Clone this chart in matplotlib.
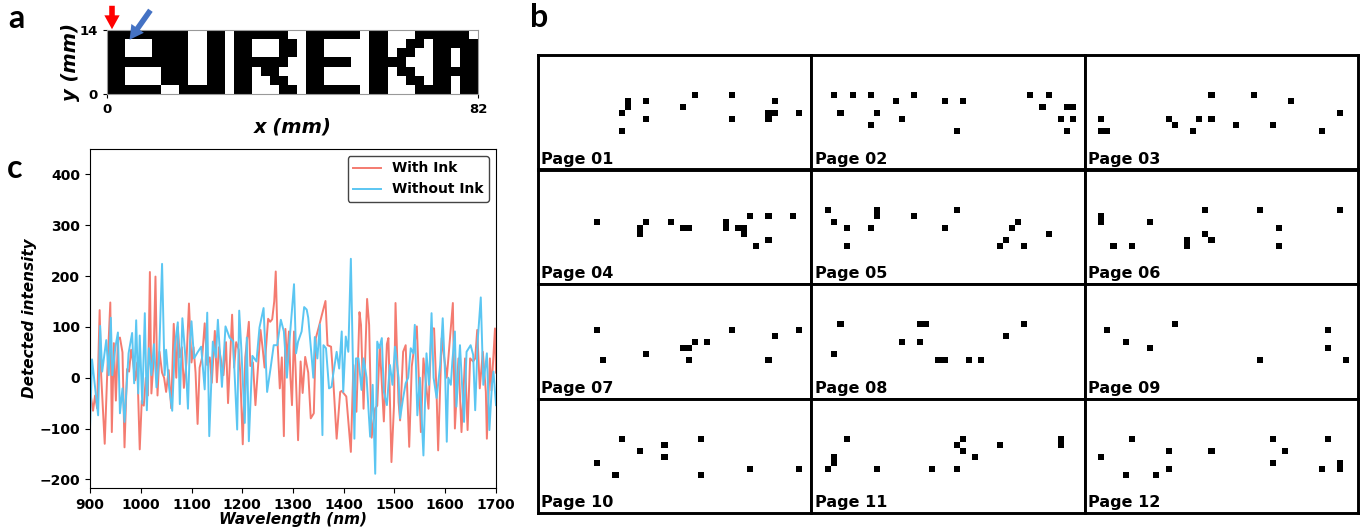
import numpy as np
import matplotlib
matplotlib.use("Agg")
import matplotlib.pyplot as plt

plt.rcParams['font.family'] = ['DejaVu Sans']
plt.rcParams['font.weight'] = 'bold'
plt.rcParams['axes.labelweight'] = 'bold'

# ---- panel a : EUREKA bitmap (41 x 7 cells of 2 mm) ----
eureka_rows = [
    "111111" "1110011" "0" "1111110" "0" "111111" "0" "1100011" "11110",
    "110001" "1110011" "0" "1100011" "0" "110000" "0" "1100110" "11111",
    "110001" "1110011" "0" "1100011" "0" "110000" "0" "1101100" "11011",
    "111111" "1110011" "0" "1111110" "0" "111110" "0" "1111000" "11011",
    "110000" "1110011" "0" "1101100" "0" "110000" "0" "1101100" "11111",
    "110000" "1110011" "0" "1100110" "0" "110000" "0" "1100110" "11011",
    "111111" "0011111" "0" "1100011" "0" "111111" "0" "1100011" "11011",
]
x_ticks_a = [0, 82]
y_ticks_a = [0, 14]

# ---- panel b : pages (col, row) of black cells ----
page_01 = [(14, 7), (14, 8), (13, 9), (13, 12), (17, 7), (17, 10), (23, 8), (25, 6),
           (31, 6), (31, 10), (38, 7), (37, 9), (38, 9), (37, 10), (42, 9)]
page_02 = [(3, 6), (6, 6), (9, 6), (16, 6), (13, 7), (21, 7), (24, 7), (35, 6), (38, 6),
           (4, 9), (10, 9), (14, 10), (9, 11), (23, 12), (37, 8), (41, 8), (42, 8),
           (40, 10), (42, 10), (41, 12)]
page_03 = [(20, 6), (27, 6), (33, 7), (41, 9), (2, 10), (13, 10), (14, 11), (18, 10),
           (20, 10), (24, 11), (30, 11), (17, 12), (38, 12), (2, 12), (3, 12)]
page_04 = [(9, 8), (16, 9), (16, 10), (17, 8), (21, 8), (23, 9), (24, 9), (30, 8), (30, 9),
           (34, 7), (37, 7), (41, 7), (32, 9), (33, 9), (33, 10), (35, 12), (37, 11)]
page_05 = [(2, 6), (3, 8), (5, 9), (5, 12), (10, 6), (10, 7), (9, 9), (16, 7), (23, 6),
           (21, 9), (33, 8), (32, 9), (38, 10), (31, 11), (30, 12), (34, 12)]
page_06 = [(2, 7), (2, 8), (19, 6), (28, 6), (41, 6), (10, 8), (31, 9), (19, 10), (20, 11),
           (16, 11), (16, 12), (4, 12), (7, 12), (31, 12)]
page_07 = [(9, 7), (10, 12), (17, 11), (23, 10), (24, 10), (25, 9), (27, 9), (24, 12),
           (31, 7), (38, 8), (37, 12), (42, 7)]
page_08 = [(4, 6), (3, 11), (17, 6), (18, 6), (14, 9), (17, 9), (20, 12), (21, 12),
           (25, 12), (27, 12), (31, 8), (34, 6)]
page_09 = [(14, 6), (3, 7), (39, 7), (6, 9), (10, 10), (39, 10), (28, 12), (42, 12)]
page_10 = [(13, 6), (26, 6), (20, 7), (16, 8), (20, 9), (9, 10), (12, 12), (26, 12),
           (34, 11), (42, 11)]
page_11 = [(5, 6), (3, 9), (3, 10), (2, 11), (10, 11), (19, 11), (23, 11), (24, 6),
           (23, 7), (24, 8), (26, 9), (30, 7), (40, 6), (40, 7)]
page_12 = [(7, 6), (30, 6), (39, 6), (13, 8), (20, 8), (32, 8), (2, 9), (30, 10), (13, 11),
           (38, 11), (41, 10), (41, 11), (6, 12), (11, 12)]
pages = [page_01, page_02, page_03, page_04, page_05, page_06,
         page_07, page_08, page_09, page_10, page_11, page_12]
page_names = ["Page %02d" % (i + 1) for i in range(12)]

# ---- panel c : spectra ----
wl_ink = [900, 906, 910, 914, 919, 922, 929, 934, 940, 943, 947, 951, 955, 959, 964, 968,
          973, 977, 981, 985, 989, 993, 998, 1002, 1006, 1010, 1014, 1018, 1021, 1025,
          1029, 1033, 1037, 1042, 1046, 1050, 1055, 1060, 1065, 1070, 1073, 1077, 1081,
          1085, 1090, 1095, 1100, 1104, 1108, 1112, 1116, 1121, 1126, 1131, 1136, 1140,
          1146, 1150, 1154, 1159, 1163, 1168, 1172, 1180, 1184, 1188, 1193, 1196, 1201,
          1206, 1213, 1216, 1221, 1226, 1231, 1236, 1240, 1244, 1251, 1255, 1259, 1263,
          1266, 1270, 1274, 1278, 1282, 1285, 1288, 1292, 1295, 1298, 1302, 1305, 1310,
          1315, 1319, 1324, 1330, 1335, 1341, 1345, 1352, 1357, 1364, 1368, 1375, 1378,
          1386, 1393, 1396, 1405, 1414, 1419, 1425, 1431, 1434, 1439, 1446, 1450, 1455,
          1462, 1466, 1471, 1479, 1485, 1488, 1494, 1499, 1502, 1508, 1511, 1517, 1522,
          1529, 1534, 1544, 1552, 1557, 1567, 1573, 1578, 1583, 1586, 1593, 1603, 1615,
          1619, 1626, 1632, 1639, 1644, 1649, 1655, 1659, 1663, 1668, 1674, 1680, 1682,
          1688, 1691, 1698, 1700]
with_ink = [-25, -65, -35, -60, 133, 5, -130, 10, 148, -107, 68, -45, 75, 79, 50, -137,
            17, 12, 55, 30, -5, 30, -141, -45, -55, 0, -35, 208, -31, 30,
            199, -35, 51, 10, 0, -28, 15, -60, 106, 0, 100, 40, 60,
            -20, 30, 146, 30, 60, 10, -91, 20, 40, 107, 25, 40, -10,
            92, -9, 60, 30, 5, 70, -50, 124, 20, 70, 55, 10, -131,
            40, 110, 23, 30, -54, 20, 94, 60, 20, 116, 110, 115, 150,
            209, 60, -21, 40, -115, 96, 30, 91, 0, -54, 91, 20, -123,
            32, -30, 41, 10, -80, -70, 78, 104, 124, 151, 64, 61, 18,
            -120, -28, -26, -37, -146, 25, -67, 129, 104, -61, 155, 104, -118,
            -60, -55, 64, -86, 66, 78, -166, -55, 147, -48, -84, 51, 64,
            -136, 22, 101, -107, 38, -61, 97, 97, -34, -143, 78, 0, 147,
            -100, 38, -107, 38, -103, 38, 32, 38, 94, -21, 51, -28, -120,
            38, -25, 97, 10]

wl_no_ink = [900, 904, 910, 916, 920, 924, 932, 937, 941, 944, 950, 955, 959, 964, 968,
             976, 983, 987, 991, 995, 998, 1003, 1008, 1012, 1016, 1021, 1026, 1031,
             1036, 1042, 1047, 1050, 1056, 1062, 1067, 1073, 1077, 1082, 1088, 1093,
             1097, 1100, 1105, 1112, 1119, 1126, 1131, 1135, 1142, 1148, 1152, 1160,
             1167, 1175, 1182, 1190, 1194, 1198, 1205, 1209, 1213, 1220, 1228, 1234,
             1242, 1249, 1256, 1262, 1269, 1276, 1282, 1288, 1293, 1302, 1306, 1310,
             1317, 1322, 1327, 1330, 1337, 1340, 1343, 1348, 1353, 1358, 1360, 1365,
             1371, 1376, 1379, 1386, 1391, 1396, 1399, 1404, 1409, 1414, 1418, 1421,
             1424, 1429, 1435, 1439, 1445, 1452, 1457, 1462, 1466, 1470, 1475, 1479,
             1485, 1491, 1496, 1501, 1508, 1511, 1517, 1522, 1527, 1532, 1537, 1540,
             1545, 1550, 1557, 1563, 1568, 1573, 1577, 1583, 1590, 1595, 1600, 1603,
             1606, 1611, 1614, 1619, 1622, 1629, 1637, 1642, 1650, 1655, 1659, 1664,
             1670, 1675, 1682, 1687, 1692, 1695, 1700]
without_ink = [-100, 36, -20, -74, 102, 12, 74, 5, 118, 5, 60, 89, -70, -21, -87,
               48, 88, -11, 113, -31, 83, -51, 127, -64, 58, 5, 66, -19,
               38, 224, 5, 55, -20, -65, 61, 109, -52, 117, 40, -61,
               71, 111, 38, 50, 61, -23, 128, -115, 71, 40, 114, -18,
               101, 79, 71, -102, 132, 60, -89, 79, -125, 43, 32, 99,
               137, -28, 20, 64, 64, 114, 91, 0, 71, 184, 48, 71,
               91, 139, 134, 118, 38, 0, 80, 38, 105, -113, 64, 58,
               -21, -18, 5, 51, 18, 91, -28, 81, 51, 234, 32, -120,
               38, 38, -24, 38, 0, -116, -14, -189, 71, 58, 78, -28,
               -54, 25, -14, 61, 0, -80, -40, -11, 0, 58, 48, 104,
               -74, 0, -153, 48, -14, 127, 0, -40, 25, 117, 0, -126,
               0, -14, 32, 91, -57, 64, -87, 51, 64, 45, -64, 74,
               158, -14, 48, -103, -14, 12, -54]

fig = plt.figure(figsize=(13.69, 5.32), dpi=100)
W, H = 1369.0, 532.0


def box(l, t, r, b):
    return [l / W, 1 - b / H, (r - l) / W, (b - t) / H]


# panel a
ax_a = fig.add_axes(box(107, 30, 478, 94))
bitmap = np.array([[int(ch) for ch in row] for row in eureka_rows])
ax_a.imshow(bitmap, cmap='gray_r', extent=(0, 82, 0, 14), aspect='auto',
            interpolation='nearest', vmin=0, vmax=1)
ax_a.set_xticks(x_ticks_a)
ax_a.set_yticks(y_ticks_a)
ax_a.tick_params(labelsize=9.5, length=3)
ax_a.set_xlabel('x (mm)', fontsize=14, style='italic', labelpad=1)
ax_a.set_ylabel('y (mm)', fontsize=14, style='italic', labelpad=0)
for s in ax_a.spines.values():
    s.set_color('#999999')

ax_a.annotate('', xy=(112, H - 32), xytext=(112, H - 3), xycoords='figure pixels',
              arrowprops=dict(arrowstyle='simple,head_width=1.1,head_length=1.0,tail_width=0.4',
                              color='red', lw=0), annotation_clip=False)
ax_a.annotate('', xy=(128, H - 42), xytext=(152, H - 8), xycoords='figure pixels',
              arrowprops=dict(arrowstyle='simple,head_width=1.1,head_length=1.0,tail_width=0.4',
                              color='#4472C4', lw=0), annotation_clip=False)

# panel c
ax_c = fig.add_axes(box(90, 149, 496, 488))
ax_c.plot(wl_ink, with_ink, color='#F47B70', lw=1.4, label='With Ink')
ax_c.plot(wl_no_ink, without_ink, color='#5BC6F2', lw=1.4, label='Without Ink')
ax_c.set_xlim(900, 1700)
ax_c.set_ylim(-217, 450)
ax_c.set_xticks(range(900, 1701, 100))
ax_c.set_yticks(range(-200, 401, 100))
ax_c.tick_params(labelsize=10)
ax_c.set_xlabel('Wavelength (nm)', fontsize=11, style='italic', labelpad=0)
ax_c.set_ylabel('Detected intensity', fontsize=11, style='italic', labelpad=2)
leg = ax_c.legend(loc='upper right', prop={'weight': 'bold', 'size': 10},
                  framealpha=1, edgecolor='#444444')

# panel b
gl, gt, gr, gb = 538, 55, 1358, 513
pw = (gr - gl) / 3.0
ph = (gb - gt) / 4.0
for i, dots in enumerate(pages):
    r, c = divmod(i, 3)
    ax = fig.add_axes(box(gl + c * pw, gt + r * ph, gl + (c + 1) * pw, gt + (r + 1) * ph))
    grid = np.zeros((19, 45))
    for col, row in dots:
        grid[row, col] = 1
    ax.imshow(grid, cmap='gray_r', extent=(0, 45, 19, 0), aspect='auto',
              interpolation='nearest', vmin=0, vmax=1)
    ax.set_xlim(-0.2, 44.6)
    ax.set_ylim(18.7, -0.1)
    ax.set_xticks([])
    ax.set_yticks([])
    for s in ax.spines.values():
        s.set_linewidth(2.1)
        s.set_color('black')
    ax.text(0.012, 0.05, page_names[i], transform=ax.transAxes, fontsize=11.5,
            fontweight='bold', va='baseline', ha='left')

# panel letters
fig.text(8 / W, 1 - 28 / H, 'a', fontsize=23, fontweight='bold', family='Lato')
fig.text(530 / W, 1 - 27 / H, 'b', fontsize=23, fontweight='bold', family='Lato')
fig.text(7 / W, 1 - 178 / H, 'c', fontsize=23, fontweight='bold', family='Lato')

fig.savefig('out.png', dpi=100)
